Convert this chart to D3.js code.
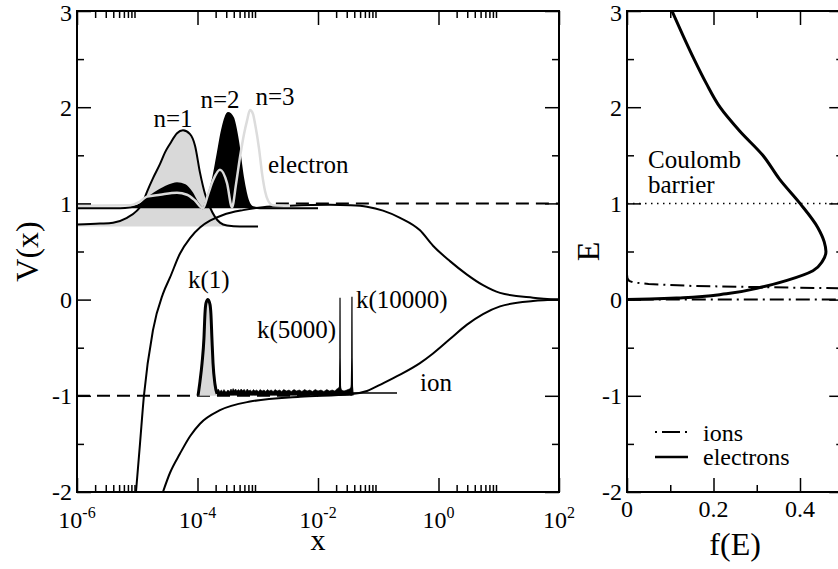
<!DOCTYPE html>
<html><head><meta charset="utf-8">
<script src="https://cdn.jsdelivr.net/npm/d3@7"></script>
<style>
html,body{margin:0;padding:0;background:#fff;overflow:hidden}
svg{display:block}
</style></head><body>
<svg id="chart" width="838" height="569" font-family="'Liberation Serif', 'Times New Roman', Times, serif"></svg>
<script>
// ---------------- DATA ----------------
// left panel: log x axis
const leftXMajor = [1e-6, 1e-4, 1e-2, 1e0, 1e2];
const leftXMajorExp = ["-6", "-4", "-2", "0", "2"];
const leftXMinor = [-6, -4, -2, 0].flatMap(k => [2,3,4,5,6,7,8,9].map(m => m * Math.pow(10, k)));
const yMajor = [-2, -1, 0, 1, 2, 3];
const yMinor = [-1.5, -0.5, 0.5, 1.5, 2.5];
// right panel
const rightXMajor = [0, 0.2, 0.4];
const rightXLabels = ["0", "0.2", "0.4"];
const rightXMinor = [0.1, 0.3];

// electron potential [x, V]
const electronPotential = [
  [9.53e-6,-2.0],[1.11e-5,-1.5],[1.29e-5,-1.0],[1.82e-5,-0.32],[2.67e-5,0.06],[3.50e-5,0.23],
  [5.13e-5,0.48],[7.52e-5,0.64],[1.10e-4,0.75],[1.61e-4,0.82],[2.65e-4,0.88],[5.69e-4,0.93],
  [1.22e-3,0.96],[3.43e-3,0.975],[1.58e-2,0.985],[3.40e-2,0.98],[6.50e-2,0.965],[0.120,0.925],
  [0.230,0.85],[0.493,0.72],[0.811,0.56],[1.55,0.40],[2.97,0.26],[5.48,0.15],[10.5,0.07],
  [37.0,0.02],[100,0.0]
];
// ion potential [x, V]
const ionPotential = [
  [2.67e-5,-2.0],[3.50e-5,-1.8],[5.13e-5,-1.6],[7.52e-5,-1.42],[1.10e-4,-1.29],[2.36e-4,-1.15],
  [7.43e-4,-1.06],[5.02e-3,-1.01],[3.40e-2,-0.985],[6.50e-2,-0.95],[0.120,-0.87],[0.230,-0.78],
  [0.493,-0.66],[0.811,-0.56],[1.55,-0.41],[2.97,-0.26],[5.48,-0.15],[10.5,-0.07],[37.0,-0.015],[100,0]
];
// electron wave functions (offset by their levels)
const n1Level = 0.76;
const n1Wave = [
  [1e-6,0.78],[2.41e-6,0.79],[3.96e-6,0.80],[6.76e-6,0.85],[9.91e-6,0.925],[1.20e-5,0.99],
  [1.45e-5,1.12],[1.82e-5,1.26],[2.39e-5,1.41],[2.89e-5,1.53],[3.50e-5,1.62],[4.57e-5,1.73],
  [5.74e-5,1.76],[7.52e-5,1.72],[9.10e-5,1.60],[1.10e-4,1.32],[1.33e-4,1.10],[1.61e-4,0.96],
  [1.95e-4,0.86],[2.36e-4,0.80],[3.09e-4,0.77],[5.07e-4,0.76],[1.01e-3,0.76]
];
const n2Level = 0.95;
const n2Wave = [
  [1e-6,0.95],[5.18e-6,0.95],[7.59e-6,0.96],[1.11e-5,0.99],[1.45e-5,1.05],[1.97e-5,1.11],
  [2.89e-5,1.17],[4.57e-5,1.21],[6.21e-5,1.19],[8.11e-5,1.11],[1.02e-4,1.0],[1.23e-4,0.95],
  [1.49e-4,1.08],[1.81e-4,1.26],[2.11e-4,1.48],[2.55e-4,1.76],[3.09e-4,1.93],[3.21e-4,1.94],
  [3.88e-4,1.89],[4.70e-4,1.65],[5.69e-4,1.27],[6.89e-4,1.03],[8.34e-4,0.96],[1.09e-3,0.95],[1e-2,0.95]
];
const n3Wave = [
  [1e-6,0.975],[7.59e-6,0.98],[1.11e-5,1.02],[1.45e-5,1.07],[2.39e-5,1.09],[4.57e-5,1.11],
  [6.70e-5,1.09],[9.10e-5,1.03],[1.23e-4,0.95],[1.49e-4,1.09],[1.81e-4,1.24],[2.36e-4,1.35],
  [3.09e-4,1.21],[3.74e-4,0.96],[4.36e-4,1.20],[5.07e-4,1.48],[5.91e-4,1.72],[6.64e-4,1.86],
  [7.43e-4,1.97],[8.34e-4,1.93],[9.00e-4,1.83],[1.05e-3,1.57],[1.18e-3,1.31],[1.32e-3,1.13],
  [1.48e-3,1.03],[1.79e-3,0.98],[3.43e-3,0.975]
];
// ion wave packets
const ionLevel = -1.0;
const k1Packet = [
  [1.02e-4,-1.0],[1.10e-4,-0.85],[1.19e-4,-0.66],[1.28e-4,-0.4],[1.33e-4,-0.15],[1.38e-4,-0.04],
  [1.49e-4,0.0],[1.61e-4,-0.05],[1.67e-4,-0.15],[1.74e-4,-0.42],[1.81e-4,-0.66],[1.95e-4,-0.88],[2.11e-4,-0.98]
];
const noiseTop = [
  [2.1e-4,-0.95],[2.2e-4,-0.93],[2.35e-4,-0.955],[2.5e-4,-0.94],[2.6e-4,-0.96],[2.75e-4,-0.935],
  [2.9e-4,-0.955],[3.0e-4,-0.96],[3.2e-4,-0.94],[3.4e-4,-0.955],[3.6e-4,-0.93],[3.75e-4,-0.95],
  [3.9e-4,-0.925],[4.1e-4,-0.945],[4.3e-4,-0.93],[4.5e-4,-0.95],[4.8e-4,-0.935],[5.0e-4,-0.95],
  [5.3e-4,-0.93],[5.6e-4,-0.945],[6.0e-4,-0.935],[6.3e-4,-0.955],[6.7e-4,-0.93],[7.1e-4,-0.95],
  [7.5e-4,-0.94],[8.0e-4,-0.955],[8.5e-4,-0.935],[9.0e-4,-0.95],[9.6e-4,-0.94],[1.02e-3,-0.955],
  [1.1e-3,-0.935],[1.18e-3,-0.95],[1.27e-3,-0.94],[1.36e-3,-0.955],[1.45e-3,-0.935],[1.55e-3,-0.95],
  [1.67e-3,-0.94],[1.8e-3,-0.955],[1.95e-3,-0.935],[2.1e-3,-0.95],[2.3e-3,-0.94],[2.5e-3,-0.955],
  [2.7e-3,-0.935],[3.0e-3,-0.95],[3.3e-3,-0.94],[3.6e-3,-0.955],[4.0e-3,-0.935],[4.4e-3,-0.95],
  [4.9e-3,-0.94],[5.4e-3,-0.955],[6.0e-3,-0.935],[6.6e-3,-0.95],[7.3e-3,-0.94],[8.1e-3,-0.955],
  [9.0e-3,-0.935],[1.0e-2,-0.95],[1.12e-2,-0.94],[1.25e-2,-0.955],[1.4e-2,-0.935],[1.55e-2,-0.95],
  [1.72e-2,-0.94],[1.9e-2,-0.95],[2.05e-2,-0.93],[2.2e-2,-0.92],[2.3e-2,-0.90],[2.45e-2,-0.94],
  [2.7e-2,-0.95],[3.0e-2,-0.94],[3.3e-2,-0.93],[3.5e-2,-0.92],[3.65e-2,-0.90]
];
const noiseBottom = -0.995;
const k5000Spike = [[2.22e-2,-0.96],[2.28e-2,-0.9],[2.31e-2,-0.6],[2.32e-2,0.02],[2.33e-2,-0.6],[2.36e-2,-0.9],[2.42e-2,-0.97]];
const k10000Spike = [[3.50e-2,-0.96],[3.58e-2,-0.88],[3.64e-2,-0.6],[3.66e-2,0.03],[3.68e-2,-0.6],[3.73e-2,-0.9],[3.80e-2,-0.97]];
const ionTrackLevel = -0.97;
const ionTrackRange = [2.1e-4, 0.205];
const dashedUpper = {v: 1.0, from: 2e-3, to: 100};
const dashedLower = {v: -1.0, from: 1e-6, to: 1e-2};

// right panel distributions [f, E]
const electronDist = [
  [0,0],[0.053,0.005],[0.13,0.02],[0.23,0.06],[0.307,0.125],[0.37,0.2],[0.43,0.3],[0.452,0.4],
  [0.46,0.5],[0.456,0.6],[0.441,0.75],[0.40,1.0],[0.353,1.25],[0.314,1.5],[0.261,1.75],
  [0.215,2.0],[0.183,2.25],[0.155,2.5],[0.129,2.75],[0.104,3.0]
];
const ionDist = [
  [0,3.0],[0,0.26],[0.001,0.22],[0.005,0.195],[0.015,0.178],[0.05,0.162],[0.15,0.142],
  [0.3,0.13],[0.45,0.12],[0.55,0.115],[0.7,0.11],[0.7,0.0],[0.5,0.0],[0.2,0.0],[0,0.0],[0,-2.0]
];
const coulombBarrier = 1.0;

// ---------------- CHART ----------------
const FONT = "'Liberation Serif', 'Times New Roman', Times, serif";
const svg = d3.select("#chart");
const L = {left:77, top:11, right:559, bottom:492};
const R = {left:627, top:11, right:843.25, bottom:492};
const x1 = d3.scaleLog().domain([1e-6,1e2]).range([L.left,L.right]);
const y1 = d3.scaleLinear().domain([-2,3]).range([L.bottom,L.top]);
const x2 = d3.scaleLinear().domain([0,0.5]).range([R.left,R.right]);
const y2 = d3.scaleLinear().domain([-2,3]).range([R.bottom,R.top]);

const defs = svg.append("defs");
defs.append("clipPath").attr("id","clipL").append("rect")
  .attr("x",L.left).attr("y",L.top).attr("width",L.right-L.left).attr("height",L.bottom-L.top);
defs.append("clipPath").attr("id","clipR").append("rect")
  .attr("x",R.left).attr("y",R.top).attr("width",R.right-R.left).attr("height",R.bottom-R.top);

const gL = svg.append("g").attr("clip-path","url(#clipL)");
const gR = svg.append("g").attr("clip-path","url(#clipR)");

const lineL = d3.line().x(d=>x1(d[0])).y(d=>y1(d[1])).curve(d3.curveMonotoneX);
const areaL = base => d3.area().x(d=>x1(d[0])).y0(y1(base)).y1(d=>y1(d[1])).curve(d3.curveMonotoneX);

// dashed reference levels
gL.append("line").attr("x1",x1(dashedLower.from)).attr("x2",x1(dashedLower.to))
  .attr("y1",y1(dashedLower.v)).attr("y2",y1(dashedLower.v))
  .attr("stroke","#000").attr("stroke-width",2).attr("stroke-dasharray","13,7");
gL.append("line").attr("x1",x1(dashedUpper.from)).attr("x2",x1(dashedUpper.to))
  .attr("y1",y1(dashedUpper.v)).attr("y2",y1(dashedUpper.v))
  .attr("stroke","#000").attr("stroke-width",2).attr("stroke-dasharray","13,7");

// wave function fills
gL.append("path").datum(n1Wave).attr("d",areaL(n1Level)).attr("fill","#d9d9d9");
gL.append("path").datum(n2Wave).attr("d",areaL(n2Level)).attr("fill","#000");

// potentials
gL.append("path").datum(electronPotential).attr("d",lineL).attr("fill","none").attr("stroke","#000").attr("stroke-width",2);
gL.append("path").datum(ionPotential).attr("d",lineL).attr("fill","none").attr("stroke","#000").attr("stroke-width",2);

// wave function strokes
gL.append("path").datum(n1Wave).attr("d",lineL).attr("fill","none").attr("stroke","#000").attr("stroke-width",2);
gL.append("path").datum(n2Wave).attr("d",lineL).attr("fill","none").attr("stroke","#000").attr("stroke-width",2);
gL.append("path").datum(n3Wave).attr("d",lineL).attr("fill","none").attr("stroke","#dcdcdc").attr("stroke-width",2.5);

// ion packets
gL.append("line").attr("x1",x1(ionTrackRange[0])).attr("x2",x1(ionTrackRange[1]))
  .attr("y1",y1(ionTrackLevel)).attr("y2",y1(ionTrackLevel)).attr("stroke","#000").attr("stroke-width",1.5);
gL.append("path").datum(noiseTop)
  .attr("d",d3.area().x(d=>x1(d[0])).y0(y1(noiseBottom)).y1(d=>y1(d[1])).curve(d3.curveLinear))
  .attr("fill","#000").attr("stroke","#000").attr("stroke-width",0.6);
gL.append("path").datum(k1Packet).attr("d",areaL(ionLevel)).attr("fill","#d9d9d9");
gL.append("path").datum(k1Packet).attr("d",lineL).attr("fill","none").attr("stroke","#000").attr("stroke-width",3).attr("stroke-linejoin","round");
[k5000Spike,k10000Spike].forEach(s=>{
  gL.append("path").datum(s).attr("d",d3.area().x(d=>x1(d[0])).y0(y1(-0.99)).y1(d=>y1(d[1])))
    .attr("fill","#000").attr("stroke","#000").attr("stroke-width",1.2);
});

// text helper
const txt = (x,y,t,size,anchor) => svg.append("text").attr("x",x).attr("y",y)
  .attr("font-family",FONT).attr("font-size",size).attr("fill","#000")
  .attr("text-anchor",anchor||"start").text(t);

// left annotations
txt(173,127,"n=1",25,"middle");
txt(220,108,"n=2",25,"middle");
txt(275,105,"n=3",25,"middle");
txt(268,173,"electron",25);
txt(188,288,"k(1)",25);
txt(257,338,"k(5000)",25);
txt(356,308,"k(10000)",25);
txt(420,391,"ion",25);

// right panel curves
gR.append("line").attr("x1",x2(0)).attr("x2",x2(0.5)).attr("y1",y2(coulombBarrier)).attr("y2",y2(coulombBarrier))
  .attr("stroke","#000").attr("stroke-width",1.5).attr("stroke-dasharray","1.5,4.5");
gR.append("path").datum(ionDist)
  .attr("d",d3.line().x(d=>x2(d[0])).y(d=>y2(d[1])))
  .attr("fill","none").attr("stroke","#000").attr("stroke-width",2).attr("stroke-dasharray","14,5,2,5");
gR.append("path").datum(electronDist)
  .attr("d",d3.line().x(d=>x2(d[0])).y(d=>y2(d[1])).curve(d3.curveMonotoneY))
  .attr("fill","none").attr("stroke","#000").attr("stroke-width",3);

txt(648,168,"Coulomb",25);
txt(648,193,"barrier",25);

// legend
svg.append("line").attr("x1",655).attr("x2",689).attr("y1",432).attr("y2",432)
  .attr("stroke","#000").attr("stroke-width",2).attr("stroke-dasharray","2,5,18,5");
svg.append("line").attr("x1",655).attr("x2",688).attr("y1",457).attr("y2",457)
  .attr("stroke","#000").attr("stroke-width",2.5);
txt(703,441,"ions",24);
txt(703,465,"electrons",24);

// ---------------- AXES ----------------
function tickAxis(axis, tx, ty, size, values, scale){
  const g = svg.append("g").attr("transform",`translate(${tx},${ty})`)
    .call(axis(scale).tickValues(values).tickSize(size).tickFormat(""));
  g.select(".domain").remove();
  g.selectAll("line").attr("stroke","#000").attr("stroke-width",1.5);
  return g;
}
tickAxis(d3.axisBottom,0,L.bottom,-14,leftXMajor,x1);
tickAxis(d3.axisBottom,0,L.bottom,-7,leftXMinor,x1);
tickAxis(d3.axisTop,0,L.top,-14,leftXMajor,x1);
tickAxis(d3.axisTop,0,L.top,-7,leftXMinor,x1);
tickAxis(d3.axisLeft,L.left,0,-14,yMajor,y1);
tickAxis(d3.axisLeft,L.left,0,-7,yMinor,y1);
tickAxis(d3.axisRight,L.right,0,-14,yMajor,y1);
tickAxis(d3.axisRight,L.right,0,-7,yMinor,y1);
tickAxis(d3.axisBottom,0,R.bottom,-14,rightXMajor,x2);
tickAxis(d3.axisBottom,0,R.bottom,-7,rightXMinor,x2);
tickAxis(d3.axisTop,0,R.top,-14,rightXMajor,x2);
tickAxis(d3.axisTop,0,R.top,-7,rightXMinor,x2);
tickAxis(d3.axisLeft,R.left,0,-14,yMajor,y2);
tickAxis(d3.axisLeft,R.left,0,-7,yMinor,y2);
tickAxis(d3.axisRight,R.right,0,-14,yMajor,y2);
tickAxis(d3.axisRight,R.right,0,-7,yMinor,y2);

// frames
svg.append("rect").attr("x",L.left).attr("y",L.top).attr("width",L.right-L.left).attr("height",L.bottom-L.top)
  .attr("fill","none").attr("stroke","#000").attr("stroke-width",2);
svg.append("rect").attr("x",R.left).attr("y",R.top).attr("width",R.right-R.left).attr("height",R.bottom-R.top)
  .attr("fill","none").attr("stroke","#000").attr("stroke-width",2);

// tick labels
leftXMajor.forEach((v,i)=>{
  const t = txt(x1(v),528,"",24,"middle");
  t.append("tspan").text("10");
  t.append("tspan").attr("dy",-10).attr("font-size",16).text(leftXMajorExp[i]);
});
yMajor.forEach(v=>{
  const dy = v === 3 ? "0.4em" : "0.35em";
  txt(L.left-5,y1(v),String(v),24,"end").attr("dy",dy);
  txt(R.left-5,y2(v),String(v),24,"end").attr("dy",dy);
});
rightXMajor.forEach((v,i)=>{
  txt(x2(v),517,rightXLabels[i],24,"middle");
});

// axis titles
txt(0,0,"V(x)",32,"middle").attr("transform",`translate(38,${(L.top+L.bottom)/2}) rotate(-90)`);
txt((L.left+L.right)/2,550,"x",30,"middle");
txt(0,0,"E",32,"middle").attr("transform",`translate(599,${(R.top+R.bottom)/2}) rotate(-90)`);
txt((R.left+R.right)/2,555,"f(E)",32,"middle");
</script>
</body></html>
